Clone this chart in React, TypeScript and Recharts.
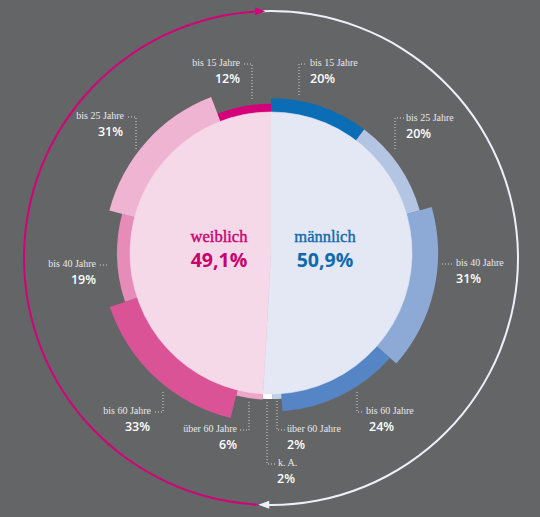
import React from 'react';
import { PieChart, Pie, Cell } from 'recharts';

// ---- data ----
const GENDERS = ['männlich', 'weiblich'];
const GENDER_SHARES = [50.9, 49.1];

// men: clockwise from the top
const MEN_GROUPS = ['bis 15 Jahre', 'bis 25 Jahre', 'bis 40 Jahre', 'bis 60 Jahre', 'über 60 Jahre', 'k. A.'];
const MEN_SHARES = [20, 20, 31, 24, 2, 2];

// women: clockwise from the bottom
const WOMEN_GROUPS = ['über 60 Jahre', 'bis 60 Jahre', 'bis 40 Jahre', 'bis 25 Jahre', 'bis 15 Jahre'];
const WOMEN_SHARES = [6, 33, 19, 31, 12];

// ---- styles ----
const W = 540;
const H = 517;
const BG = '#646567';
const CX = 271;
const CY = 253;
const R = 141;
const ARC_CY = 258;
const ARC_R = 247;

const GENDER_FILLS = ['#e3e8f4', '#f6d9e9'];
const GENDER_TEXT = ['#0f6aad', '#c8006e'];
const MEN_COLORS = ['#0a6db5', '#b4c5e4', '#8daad7', '#5585c5', '#c2cfea', '#ffffff'];
const WOMEN_COLORS = ['#eea6c9', '#da5397', '#e68cb9', '#efb4d1', '#d4007a'];

const menEnd = 90 - 360 * (GENDER_SHARES[0] / 100);

const thickness = (v: number) => 5 + 0.022 * v * v;

const MEN_LAYOUT = [
  { tx: 310, ty: 66, px: 310, py: 83, lead: 'M305,64 H299 V95' },
  { tx: 406, ty: 121, px: 406, py: 138, lead: 'M404,118 H395 V150' },
  { tx: 456, ty: 266, px: 456, py: 283, lead: 'M452,264 H442' },
  { tx: 366, ty: 414, px: 369, py: 431, lead: 'M362,412 H357 V390' },
  { tx: 287, ty: 432, px: 287, py: 449, lead: 'M285,430 H277 V401' },
  { tx: 278, ty: 466, px: 277, py: 483, lead: 'M275,464 H267 V400' },
];
const WOMEN_LAYOUT = [
  { tx: 237, ty: 432, px: 237, py: 449, lead: 'M240,430 H249 V401' },
  { tx: 151, ty: 414, px: 150, py: 431, lead: 'M155,412 H163 V390' },
  { tx: 96, ty: 267, px: 96, py: 284, lead: 'M100,265 H109' },
  { tx: 124, ty: 119, px: 123, py: 136, lead: 'M128,117 H136 V150' },
  { tx: 240, ty: 66, px: 240, py: 83, lead: 'M244,64 H252 V100' },
];

const LABEL_FONT = '"Liberation Serif", serif';
const PCT_FONT = '"Open Sans", sans-serif';

const polar = (cx: number, cy: number, r: number, a: number) => {
  const rad = (a * Math.PI) / 180;
  return { x: cx + r * Math.cos(rad), y: cy - r * Math.sin(rad) };
};

const fmt = (v: number) => String(v).replace('.', ',') + '%';

const menData = MEN_GROUPS.map((name, i) => ({ name, value: MEN_SHARES[i] }));
const womenData = WOMEN_GROUPS.map((name, i) => ({ name, value: WOMEN_SHARES[i] }));
const genderData = GENDERS.map((name, i) => ({ name, value: GENDER_SHARES[i] }));

const Overlay = () => {
  const magTop = polar(CX, ARC_CY, ARC_R, 92.5);
  const whiteBottom = polar(CX, ARC_CY, ARC_R, -92.5);
  const labelItems: React.ReactNode[] = [];
  MEN_GROUPS.forEach((g, i) => {
    const l = MEN_LAYOUT[i];
    labelItems.push(
      <g key={'m' + i}>
        <path d={l.lead} stroke="#d8d8d8" strokeWidth={1} strokeDasharray="1 2" fill="none" />
        <text x={l.tx} y={l.ty} fontFamily={LABEL_FONT} fontSize={10} fill="#e8e8e8" textAnchor="start">{g}</text>
        <text x={l.px} y={l.py} fontFamily={PCT_FONT} fontSize={12.5} fontWeight={600} fill="#ffffff" textAnchor="start">{fmt(MEN_SHARES[i])}</text>
      </g>
    );
  });
  WOMEN_GROUPS.forEach((g, i) => {
    const l = WOMEN_LAYOUT[i];
    labelItems.push(
      <g key={'w' + i}>
        <path d={l.lead} stroke="#d8d8d8" strokeWidth={1} strokeDasharray="1 2" fill="none" />
        <text x={l.tx} y={l.ty} fontFamily={LABEL_FONT} fontSize={10} fill="#e8e8e8" textAnchor="end">{g}</text>
        <text x={l.px} y={l.py} fontFamily={PCT_FONT} fontSize={12.5} fontWeight={600} fill="#ffffff" textAnchor="end">{fmt(WOMEN_SHARES[i])}</text>
      </g>
    );
  });
  return (
    <svg
      width={W}
      height={H}
      style={{ position: 'absolute', left: 0, top: 0, pointerEvents: 'none' }}
    >
      <polygon
        points={`${magTop.x + 5},${magTop.y} ${magTop.x - 5},${magTop.y - 4} ${magTop.x - 5},${magTop.y + 4}`}
        fill="#d4007a"
      />
      <polygon
        points={`${whiteBottom.x - 2},${whiteBottom.y} ${whiteBottom.x + 9},${whiteBottom.y - 4} ${whiteBottom.x + 9},${whiteBottom.y + 4}`}
        fill="#eef0f8"
      />
      {labelItems}
      <text x={219} y={242} textAnchor="middle" fontFamily={LABEL_FONT} fontSize={16.5} fill={GENDER_TEXT[1]} stroke={GENDER_TEXT[1]} strokeWidth={0.4}>{GENDERS[1]}</text>
      <text x={219} y={267} textAnchor="middle" fontFamily={PCT_FONT} fontSize={19.5} fontWeight={700} fill={GENDER_TEXT[1]}>{fmt(GENDER_SHARES[1])}</text>
      <text x={325} y={242} textAnchor="middle" fontFamily={LABEL_FONT} fontSize={16.5} fill={GENDER_TEXT[0]} stroke={GENDER_TEXT[0]} strokeWidth={0.4}>{GENDERS[0]}</text>
      <text x={325} y={267} textAnchor="middle" fontFamily={PCT_FONT} fontSize={19.5} fontWeight={700} fill={GENDER_TEXT[0]}>{fmt(GENDER_SHARES[0])}</text>
    </svg>
  );
};

export default function App() {
  return (
    <div style={{ position: 'absolute', left: 0, top: 0, width: W, height: H, background: BG }}>
      <PieChart width={W} height={H} margin={{ top: 0, right: 0, bottom: 0, left: 0 }}>
        <Pie
          data={[{ name: 'w', value: 1 }]}
          dataKey="value"
          cx={CX}
          cy={ARC_CY}
          innerRadius={ARC_R - 1}
          outerRadius={ARC_R + 1}
          startAngle={-93}
          endAngle={-267}
          stroke="none"
          fill="#d4007a"
          isAnimationActive={false}
        />
        <Pie
          data={[{ name: 'm', value: 1 }]}
          dataKey="value"
          cx={CX}
          cy={ARC_CY}
          innerRadius={ARC_R - 1}
          outerRadius={ARC_R + 1}
          startAngle={92}
          endAngle={-90.5}
          stroke="none"
          fill="#eef0f8"
          isAnimationActive={false}
        />
        {MEN_SHARES.map((v, i) => (
          <Pie
            key={'mr' + i}
            data={menData}
            dataKey="value"
            cx={CX}
            cy={CY}
            innerRadius={R - 4}
            outerRadius={R + thickness(v)}
            startAngle={90}
            endAngle={menEnd}
            stroke="none"
            isAnimationActive={false}
          >
            {menData.map((d, j) => (
              <Cell key={j} fill={j === i ? MEN_COLORS[j] : 'transparent'} />
            ))}
          </Pie>
        ))}
        {WOMEN_SHARES.map((v, i) => (
          <Pie
            key={'wr' + i}
            data={womenData}
            dataKey="value"
            cx={CX}
            cy={CY}
            innerRadius={R - 4}
            outerRadius={R + thickness(v)}
            startAngle={menEnd}
            endAngle={-270}
            stroke="none"
            isAnimationActive={false}
          >
            {womenData.map((d, j) => (
              <Cell key={j} fill={j === i ? WOMEN_COLORS[j] : 'transparent'} />
            ))}
          </Pie>
        ))}
        <Pie
          data={genderData}
          dataKey="value"
          cx={CX}
          cy={CY}
          outerRadius={R}
          startAngle={90}
          endAngle={-270}
          isAnimationActive={false}
        >
          {genderData.map((d, j) => (
            <Cell key={j} fill={GENDER_FILLS[j]} stroke={GENDER_FILLS[j]} strokeWidth={0.6} />
          ))}
        </Pie>
      </PieChart>
      <Overlay />
    </div>
  );
}
